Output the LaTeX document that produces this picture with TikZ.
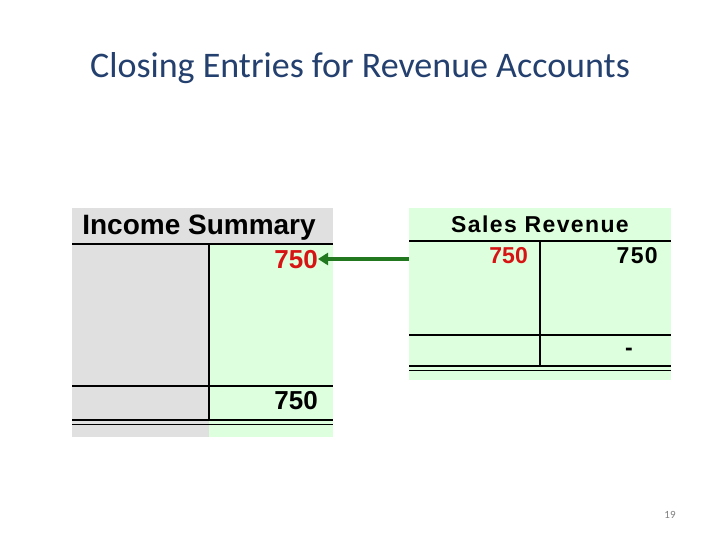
\documentclass[tikz,border=0pt]{standalone}
\usepackage{fontspec}
\usepackage{xcolor}
\usepackage{tikz}
\usetikzlibrary{arrows.meta}
\newfontfamily\titlefont{Carlito}
\newfontfamily\acctfont{Liberation Sans}[LetterSpace=6.0]
\newfontfamily\numfont{Liberation Sans}
\definecolor{acgray}{RGB}{224, 224, 224}
\definecolor{acgreen}{RGB}{222, 255, 222}
\definecolor{acred}{RGB}{214, 20, 20}
\definecolor{acarrow}{RGB}{34, 120, 30}
\definecolor{actitle}{RGB}{36, 64, 110}

\begin{document}
\begin{tikzpicture}[x=1pt, y=-1pt,
  rule/.style={line width=1.6pt},
  amount/.style={anchor=east, inner sep=0pt}]
\useasboundingbox[fill=white] (0,0) rectangle (720,540);
\node[inner sep=0pt, font=\titlefont\fontsize{36}{40}\selectfont, text=actitle] (title) at (360,68) {Closing Entries for Revenue Accounts};

% Income Summary account
\begin{scope}[shift={(72,208)}]
\fill[acgray] (0,0) rectangle (261,229);
\fill[acgreen] (137,36) rectangle (261,229);
\draw[rule] (0,36) -- (261,36);
\draw[rule] (137,36) -- (137,212);
\draw[rule] (0,178) -- (261,178);
\draw[rule] (0,212) -- (261,212);
\draw[rule] (0,216.5) -- (261,216.5);
\node[inner sep=0pt, font=\numfont\bfseries\fontsize{28}{30}\selectfont] (ishead) at (127,20) {Income Summary};
\node[amount, font=\numfont\bfseries\fontsize{26}{30}\selectfont, text=acred] (isdebit) at (246,52) {750};
\node[amount, font=\numfont\bfseries\fontsize{26}{30}\selectfont] (isbal) at (246,193) {750};
\end{scope}

% Sales Revenue account
\begin{scope}[shift={(409,208)}]
\fill[acgreen] (0,0) rectangle (262,172);
\draw[rule] (0,33) -- (262,33);
\draw[rule] (131,33) -- (131,158);
\draw[rule] (0,127) -- (262,127);
\draw[rule] (0,158) -- (262,158);
\draw[rule] (0,162.5) -- (262,162.5);
\coordinate (srleft) at (0,51);
\node[inner sep=0pt, font=\acctfont\bfseries\fontsize{23}{26}\selectfont] (srhead) at (131,16) {Sales Revenue};
\node[amount, font=\numfont\bfseries\fontsize{23}{26}\selectfont, text=acred] (srdebit) at (119,48) {750};
\node[amount, font=\acctfont\bfseries\fontsize{23}{26}\selectfont] (srcredit) at (249,48) {750};
\node[amount, font=\numfont\bfseries\fontsize{23}{26}\selectfont] (srbal) at (224,144) {-};
\end{scope}

% closing entry
\draw[line width=4pt, acarrow, -{Triangle[length=10pt, width=12pt]}] (srleft) -- (isdebit.east |- srleft);

\node[inner sep=0pt, font=\titlefont\fontsize{11}{13}\selectfont, text=gray] (pageno) at (670,515) {19};
\end{tikzpicture}
\end{document}
